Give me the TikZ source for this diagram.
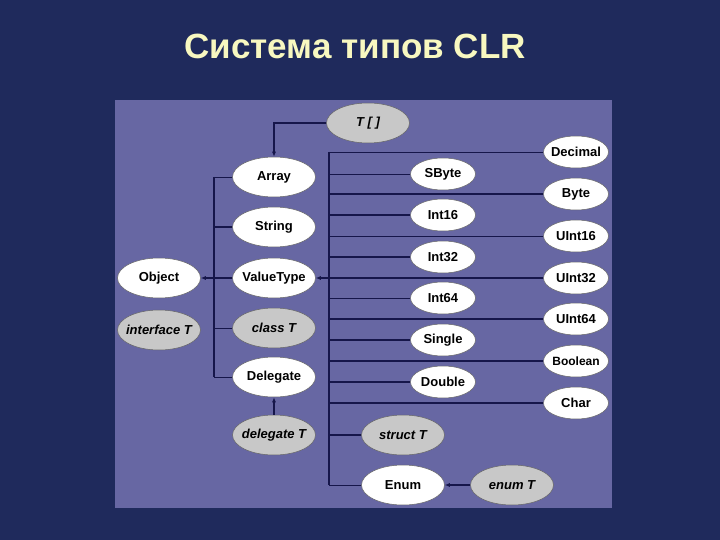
\documentclass[tikz,border=0pt]{standalone}
\usepackage{fontspec}
\setmainfont{Liberation Sans}
\usetikzlibrary{shapes.geometric,arrows.meta}

\definecolor{slidebg}{HTML}{1F2A5C}
\definecolor{panelcol}{HTML}{6767A3}
\definecolor{wire}{HTML}{16164A}
\definecolor{titlecol}{HTML}{F8F8C0}
\definecolor{gencol}{HTML}{C8C8C8}

\begin{document}
\begin{tikzpicture}[x=1pt,y=-1pt,
	font=\fontsize{13}{15}\selectfont\bfseries,
	tp/.style={ellipse,draw=black!60,line width=0.5pt,fill=white,inner ysep=0pt,inner xsep=-4pt,
		minimum width=83,minimum height=40},
	gtp/.style={tp,fill=gencol,font=\fontsize{13}{15}\selectfont\bfseries\itshape},
	prim/.style={tp,minimum width=65,minimum height=32},
	link/.style={draw=wire,line width=1.2pt},
	thinlink/.style={draw=wire,line width=0.6pt},
	arr/.style={link,-{Latex[length=5pt,width=4pt]}}]
	\useasboundingbox (0,0) rectangle (720,540);
	\fill[slidebg] (0,0) rectangle (720,540);
	\fill[panelcol] (115,100) rectangle (612,508);
	\node[text=titlecol,font=\fontsize{35}{40}\selectfont\bfseries] (title) at (355,46) {Система типов CLR};

	% left column
	\node[gtp] (Tarr) at (368,123) {T [ ]};
	\node[tp] (Array) at (274,177) {Array};
	\node[tp] (String) at (274,227) {String};
	\node[tp] (ValueType) at (274,278) {ValueType};
	\node[tp] (Object) at (159,278) {Object};
	\node[gtp] (interfaceT) at (159,330) {interface T};
	\node[gtp] (classT) at (274,328) {class T};
	\node[tp] (Delegate) at (274,377) {Delegate};
	\node[gtp] (delegateT) at (274,435) {delegate T};

	% value types, middle and right
	\node[prim] (SByte) at (443,174) {SByte};
	\node[prim] (Int16) at (443,215) {Int16};
	\node[prim] (Int32) at (443,257) {Int32};
	\node[prim] (Int64) at (443,298) {Int64};
	\node[prim] (Single) at (443,340) {Single};
	\node[prim] (Double) at (443,382) {Double};
	\node[prim] (Decimal) at (576,152) {Decimal};
	\node[prim] (Byte) at (576,194) {Byte};
	\node[prim] (UInt16) at (576,236) {UInt16};
	\node[prim] (UInt32) at (576,278) {UInt32};
	\node[prim] (UInt64) at (576,319) {UInt64};
	\node[prim,font=\fontsize{12}{14}\selectfont\bfseries] (Boolean) at (576,361) {Boolean};
	\node[prim] (Char) at (576,403) {Char};
	\node[gtp] (structT) at (403,435) {struct T};
	\node[tp] (Enum) at (403,485) {Enum};
	\node[gtp] (enumT) at (512,485) {enum T};

	% trunks
	\coordinate (ltop) at (214,177);
	\coordinate (lbot) at (214,377);
	\coordinate (rtop) at (329,152);
	\coordinate (rbot) at (329,485);
	\draw[link] (ltop) -- (lbot);
	\draw[link] (rtop) -- (rbot);

	\draw[arr] (Tarr) -| (Array);
	\draw[thinlink] (ltop) -- (Array);
	\draw[link] (ltop |- String) -- (String);
	\draw[thinlink] (ltop |- classT) -- (classT);
	\draw[thinlink] (lbot) -- (Delegate);
	\draw[arr] (ValueType) -- (Object);
	\draw[arr] (delegateT) -- (Delegate);

	\foreach \t in {Decimal,SByte,UInt16,Int64}
		\draw[thinlink] (rtop |- \t) -- (\t);
	\foreach \t in {Byte,Int16,Int32,UInt64,Single,Boolean,Double,Char,structT}
		\draw[link] (rtop |- \t) -- (\t);
	\draw[arr] (UInt32) -- (ValueType);
	\draw[thinlink] (rbot) -- (Enum);
	\draw[arr] (enumT) -- (Enum);
\end{tikzpicture}
\end{document}
